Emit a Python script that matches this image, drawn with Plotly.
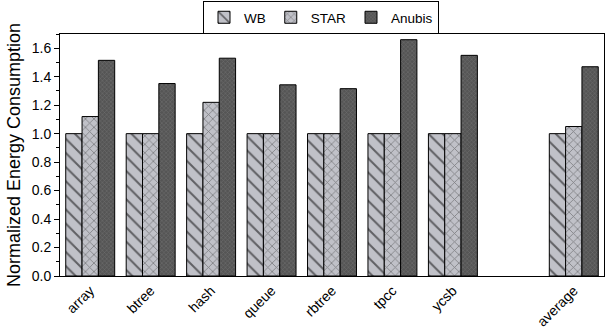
import plotly.graph_objects as go

categories = ["array", "btree", "hash", "queue", "rbtree", "tpcc", "ycsb", " ", "average"]
wb = [1.0, 1.0, 1.0, 1.0, 1.0, 1.0, 1.0, None, 1.0]
star = [1.12, 1.0, 1.22, 1.0, 1.0, 1.0, 1.0, None, 1.05]
anubis = [1.515, 1.352, 1.53, 1.343, 1.316, 1.66, 1.55, None, 1.47]
tick_labels = ["array", "btree", "hash", "queue", "rbtree", "tpcc", "ycsb", "", "average"]

font = "Liberation Sans, Arial, sans-serif"

fig = go.Figure()
fig.add_trace(go.Bar(
    name="WB", x=categories, y=wb,
    marker=dict(color="#c0c1c8", line=dict(color="black", width=1),
                pattern=dict(shape="\\", fgcolor="black", bgcolor="#c0c1c8", size=10, solidity=0.2)),
))
fig.add_trace(go.Bar(
    name="STAR", x=categories, y=star,
    marker=dict(color="#c0c1c8", line=dict(color="black", width=1),
                pattern=dict(shape="x", fgcolor="#383838", bgcolor="#c0c1c8", size=6, solidity=0.25)),
))
fig.add_trace(go.Bar(
    name="Anubis", x=categories, y=anubis,
    marker=dict(color="#5a5a5a", line=dict(color="black", width=1),
                pattern=dict(shape="x", fgcolor="#8c8c8c", bgcolor="#555555", size=3, solidity=0.3)),
))

fig.update_layout(
    width=605, height=329,
    margin=dict(l=60, r=1, t=31, b=53),
    paper_bgcolor="white", plot_bgcolor="white",
    barmode="group", bargap=0.19, bargroupgap=0,
    font=dict(family=font, size=14, color="black"),
    legend=dict(orientation="h", xref="container", yref="container",
                x=321 / 605, xanchor="center", y=1 - 1 / 329, yanchor="top",
                bordercolor="black", borderwidth=1, font=dict(size=13.5),
                itemwidth=30, tracegroupgap=0, bgcolor="white"),
    showlegend=True,
)
fig.update_xaxes(
    type="category", categoryorder="array", categoryarray=categories,
    tickmode="array", tickvals=categories, ticktext=tick_labels,
    tickangle=-45, showline=True, linecolor="black", linewidth=1, mirror=True,
    ticks="", showgrid=False, tickfont=dict(size=14), automargin=False,
)
fig.update_yaxes(
    range=[0, 1.7], dtick=0.2, tickformat=".1f",
    showline=True, linecolor="black", linewidth=1, mirror=True,
    ticks="outside", ticklen=5, tickcolor="black", showgrid=False, zeroline=False,
    minor=dict(dtick=0.1, ticks="outside", ticklen=3, tickcolor="black"),
    title=dict(text="Normalized Energy Consumption", font=dict(size=18), standoff=6),
    tickfont=dict(size=14), automargin=False,
)

fig.write_html("out.html", config={"displayModeBar": False},
               post_script="document.body.style.margin='0';document.body.style.padding='0';")
